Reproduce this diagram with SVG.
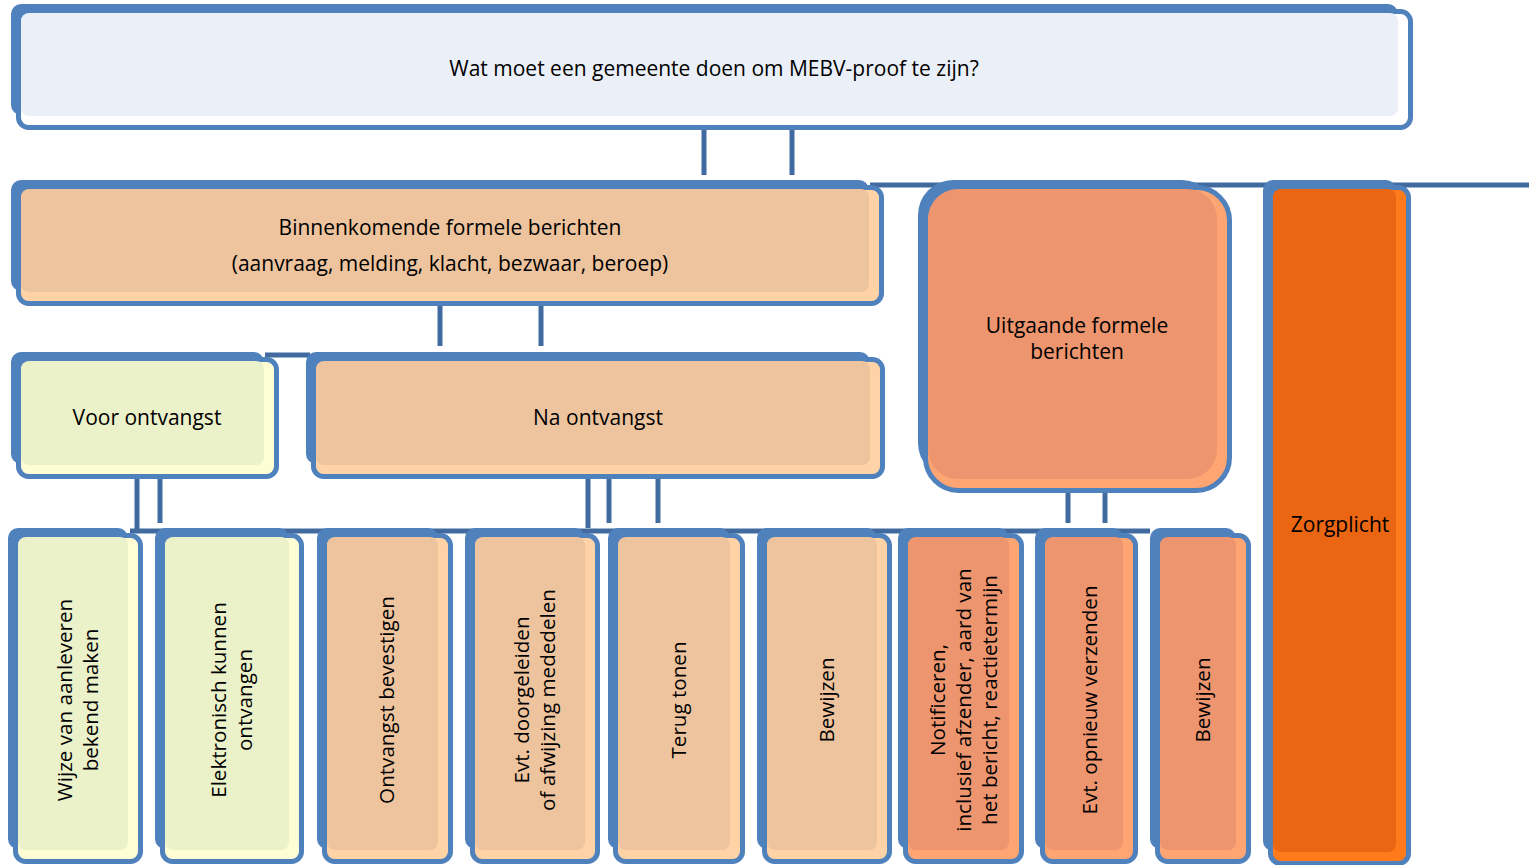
<svg xmlns="http://www.w3.org/2000/svg" width="1529" height="865" viewBox="0 0 1529 865">
<style>
.bk{fill:#4F81BD}
.fr{stroke:#4F81BD;stroke-width:5}
.conn line{stroke:#416A9F;stroke-width:5}
.t{font-family:"Open Sans","Liberation Sans",sans-serif;font-size:21px;fill:#000;text-anchor:middle}
.v{font-size:20.6px}
.blueL{fill:#FFFFFF}.blueI{fill:#EBF0F8}
.tanL{fill:#FFD3A5}.tanI{fill:#EEC49E}
.ylwL{fill:#FFFDD4}.ylwI{fill:#EBF1C8}
.salL{fill:#FFA473}.salI{fill:#EC956E}
.orgL{fill:#FF7A1A}.orgI{fill:#EB6612}
</style>
<rect width="1529" height="865" fill="#FFFFFF"/>
<g id="connectors" class="conn">
<line x1="704" y1="122" x2="704" y2="175"/>
<line x1="792" y1="122" x2="792" y2="175"/>
<line x1="870" y1="185" x2="1529" y2="185"/>
<line x1="440" y1="300" x2="440" y2="346"/>
<line x1="541" y1="300" x2="541" y2="346"/>
<line x1="265" y1="355" x2="310" y2="355"/>
<line x1="137" y1="475" x2="137" y2="533"/>
<line x1="160" y1="475" x2="160" y2="523"/>
<line x1="588" y1="475" x2="588" y2="528"/>
<line x1="609" y1="475" x2="609" y2="523"/>
<line x1="658" y1="475" x2="658" y2="523"/>
<line x1="1068" y1="485" x2="1068" y2="523"/>
<line x1="1105" y1="485" x2="1105" y2="523"/>
<line x1="130" y1="531" x2="1150" y2="531"/>
</g>
<g id="n-top">
<rect class="bk" x="11" y="4" width="1387" height="111" rx="10"/>
<rect class="fr blueL" x="18.5" y="11.5" width="1392" height="116" rx="10"/>
<rect class="blueI" x="21" y="13" width="1377" height="103" rx="8"/>
<text class="t" x="714" y="76">Wat moet een gemeente doen om MEBV-proof te zijn?</text>
</g>
<g id="n-binnen">
<rect class="bk" x="11" y="180" width="858" height="111" rx="10"/>
<rect class="fr tanL" x="18.5" y="187.5" width="863" height="116" rx="10"/>
<rect class="tanI" x="21" y="189" width="848" height="103" rx="8"/>
<text class="t" x="450" y="235">Binnenkomende formele berichten</text>
<text class="t" x="450" y="271">(aanvraag, melding, klacht, bezwaar, beroep)</text>
</g>
<g id="n-uitgaande">
<rect class="bk" x="918" y="180" width="299" height="298" rx="35"/>
<rect class="fr salL" x="925.5" y="187.5" width="304" height="303" rx="33"/>
<rect class="salI" x="928" y="189" width="289" height="290" rx="30"/>
<text class="t" x="1077" y="333">Uitgaande formele</text>
<text class="t" x="1077" y="359">berichten</text>
</g>
<g id="n-zorgplicht">
<rect class="bk" x="1263" y="180" width="133" height="671" rx="10"/>
<rect class="fr orgL" x="1270.5" y="187.5" width="138" height="676" rx="10"/>
<rect class="orgI" x="1273" y="189" width="123" height="663" rx="8"/>
<text class="t" x="1340" y="532">Zorgplicht</text>
</g>
<g id="n-voor">
<rect class="bk" x="11" y="352" width="253" height="112" rx="10"/>
<rect class="fr ylwL" x="18.5" y="359.5" width="258" height="117" rx="10"/>
<rect class="ylwI" x="21" y="361" width="243" height="104" rx="8"/>
<text class="t" x="147" y="425">Voor ontvangst</text>
</g>
<g id="n-na">
<rect class="bk" x="306" y="352" width="564" height="112" rx="10"/>
<rect class="fr tanL" x="313.5" y="359.5" width="569" height="117" rx="10"/>
<rect class="tanI" x="316" y="361" width="554" height="104" rx="8"/>
<text class="t" x="598" y="425">Na ontvangst</text>
</g>
<g id="n-wijze">
<rect class="bk" x="8" y="528" width="120" height="321" rx="10"/>
<rect class="fr ylwL" x="15.5" y="535.5" width="125" height="326" rx="10"/>
<rect class="ylwI" x="18" y="537" width="110" height="313" rx="8"/>
<text class="t v" transform="translate(72,700) rotate(-90)">Wijze van aanleveren</text>
<text class="t v" transform="translate(98,700) rotate(-90)">bekend maken</text>
</g>
<g id="n-elektronisch">
<rect class="bk" x="155" y="528" width="134" height="321" rx="10"/>
<rect class="fr ylwL" x="162.5" y="535.5" width="139" height="326" rx="10"/>
<rect class="ylwI" x="165" y="537" width="124" height="313" rx="8"/>
<text class="t v" transform="translate(226,700) rotate(-90)">Elektronisch kunnen</text>
<text class="t v" transform="translate(252,700) rotate(-90)">ontvangen</text>
</g>
<g id="n-bevestigen">
<rect class="bk" x="317" y="528" width="121" height="321" rx="10"/>
<rect class="fr tanL" x="324.5" y="535.5" width="126" height="326" rx="10"/>
<rect class="tanI" x="327" y="537" width="111" height="313" rx="8"/>
<text class="t v" transform="translate(394,700) rotate(-90)">Ontvangst bevestigen</text>
</g>
<g id="n-doorgeleiden">
<rect class="bk" x="465" y="528" width="120" height="321" rx="10"/>
<rect class="fr tanL" x="472.5" y="535.5" width="125" height="326" rx="10"/>
<rect class="tanI" x="475" y="537" width="110" height="313" rx="8"/>
<text class="t v" transform="translate(529,700) rotate(-90)">Evt. doorgeleiden</text>
<text class="t v" transform="translate(555,700) rotate(-90)">of afwijzing mededelen</text>
</g>
<g id="n-terug">
<rect class="bk" x="608" y="528" width="122" height="321" rx="10"/>
<rect class="fr tanL" x="615.5" y="535.5" width="127" height="326" rx="10"/>
<rect class="tanI" x="618" y="537" width="112" height="313" rx="8"/>
<text class="t v" transform="translate(686,700) rotate(-90)">Terug tonen</text>
</g>
<g id="n-bewijzen1">
<rect class="bk" x="757" y="528" width="120" height="321" rx="10"/>
<rect class="fr tanL" x="764.5" y="535.5" width="125" height="326" rx="10"/>
<rect class="tanI" x="767" y="537" width="110" height="313" rx="8"/>
<text class="t v" transform="translate(834,700) rotate(-90)">Bewijzen</text>
</g>
<g id="n-notificeren">
<rect class="bk" x="898" y="528" width="111" height="321" rx="10"/>
<rect class="fr salL" x="905.5" y="535.5" width="116" height="326" rx="10"/>
<rect class="salI" x="908" y="537" width="101" height="313" rx="8"/>
<text class="t v" transform="translate(945,700) rotate(-90)">Notificeren,</text>
<text class="t v" transform="translate(971,700) rotate(-90)">inclusief afzender, aard van</text>
<text class="t v" transform="translate(997,700) rotate(-90)">het bericht, reactietermijn</text>
</g>
<g id="n-opnieuw">
<rect class="bk" x="1035" y="528" width="88" height="321" rx="10"/>
<rect class="fr salL" x="1042.5" y="535.5" width="93" height="326" rx="10"/>
<rect class="salI" x="1045" y="537" width="78" height="313" rx="8"/>
<text class="t v" transform="translate(1097,700) rotate(-90)">Evt. opnieuw verzenden</text>
</g>
<g id="n-bewijzen2">
<rect class="bk" x="1150" y="528" width="86" height="321" rx="10"/>
<rect class="fr salL" x="1157.5" y="535.5" width="91" height="326" rx="10"/>
<rect class="salI" x="1160" y="537" width="76" height="313" rx="8"/>
<text class="t v" transform="translate(1210,700) rotate(-90)">Bewijzen</text>
</g>
</svg>
